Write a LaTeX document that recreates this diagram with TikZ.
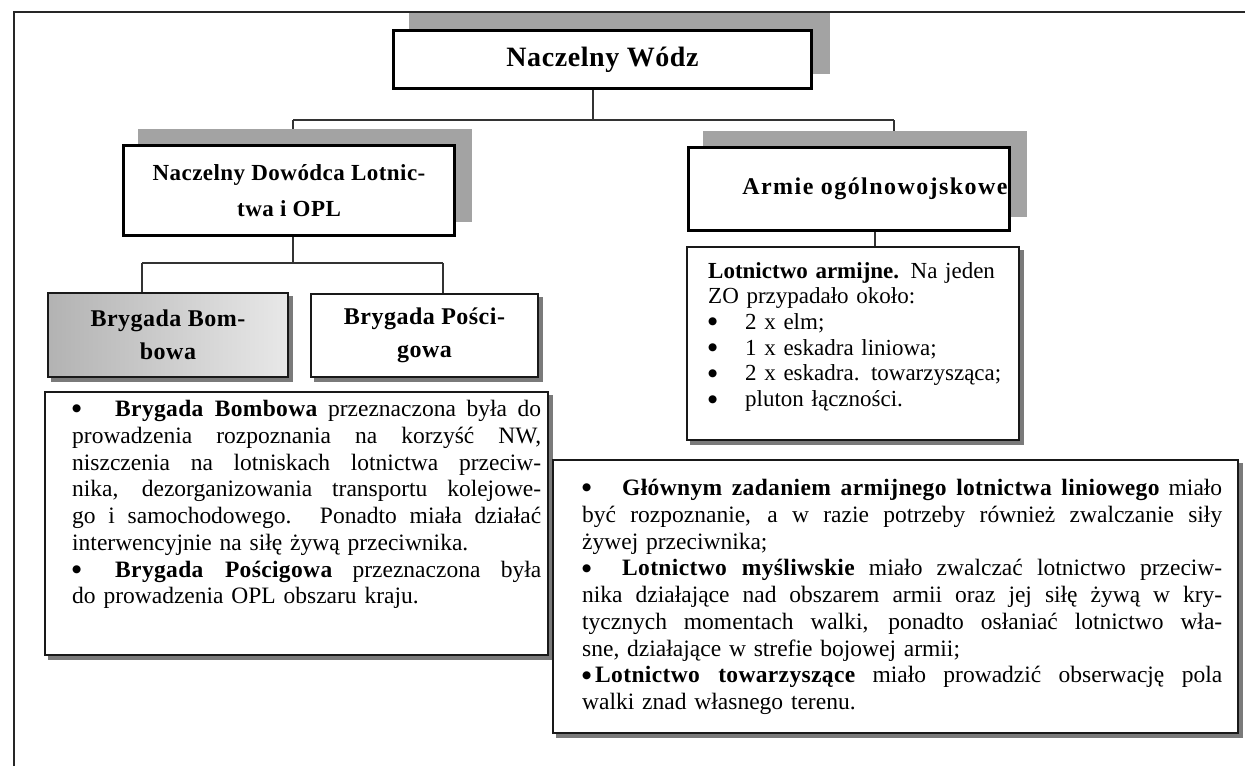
\documentclass[tikz,border=0pt]{standalone}
\usepackage{fontspec}
\setmainfont{Liberation Serif}
\newfontfamily\lsp[LetterSpace=2]{Liberation Serif}
\newfontfamily\lspwide[LetterSpace=6]{Liberation Serif}
\newfontfamily\bodyfb[LetterSpace=1.5]{Liberation Serif}
\newfontfamily\dotfont{DejaVu Sans}
\usetikzlibrary{calc,backgrounds}
\newlength\jw
\newcommand\bbfont{\lsp}
\newcommand\bb[1]{{\bbfont\bfseries #1}}
% a fully justified line: interword glue is allowed to stretch to the given width
\newcommand\jl[1]{\makebox[\jw][s]{\spaceskip=0pt\xspaceskip=0pt\relax #1}}
% list bullet followed by a fixed gap
\newcommand\bul[1]{\makebox[#1][l]{\smash{\raisebox{4.6pt}{\fontsize{10.5}{10.5}\selectfont\dotfont ●}}}}
\begin{document}
\begin{tikzpicture}[x=1pt,y=-1pt,
  headbox/.style={draw=black, line width=3pt, fill=white, align=center,
    inner sep=0pt, font=\fontsize{23}{36}\selectfont\lsp\bfseries},
  unitbox/.style={draw=black!90, line width=1.3pt, fill=white, align=center,
    inner sep=0pt, font=\fontsize{24}{33}\selectfont\lsp\bfseries},
  textbox/.style={draw=black!90, line width=1.3pt, fill=white, inner sep=0pt},
  bodytext/.style={anchor=north west, inner sep=0pt, align=left,
    font=\fontsize{23.5}{26.75}\selectfont\rmfamily,
    execute at begin node={\setlength\jw{#1}\renewcommand\bbfont{\bodyfb}}},
  link/.style={line width=1.1pt, draw=black!80},
  topshadow/.style={fill=black!36},
  dropshadow/.style={fill=black!52}]
\useasboundingbox (0,0) rectangle (1245,766);

% outer frame (top and left edges only)
\coordinate (fa) at (14,766);
\coordinate (fb) at (14,12);
\coordinate (fc) at (1245,12);
\draw[line width=1.6pt, black!85] (fa) -- (fb) -- (fc);

% headquarters level
\node[headbox, minimum width=418pt, minimum height=58pt,
  font=\fontsize{28}{36}\selectfont\lsp\bfseries] (wodz) at (602.5,59.5) {Naczelny Wódz};
\node[headbox, minimum width=331pt, minimum height=90pt] (dow) at (289,190.5)
  {Naczelny Dowódca Lotnic-\\twa i OPL};
\node[headbox, minimum width=321pt, minimum height=83pt,
  font=\fontsize{24}{36}\selectfont\lspwide\bfseries] (armie) at (849,189)
  {\hspace*{52pt}Armie ogólnowojskowe};

% brigades
\node[unitbox, minimum width=240pt, minimum height=84pt,
  left color=black!30, right color=black!9] (bomb) at (168,335) {Brygada Bom-\\bowa};
\node[unitbox, minimum width=227pt, minimum height=83pt] (posc) at (424.5,335.5)
  {Brygada Pości-\\gowa};

% description boxes
\node[textbox, minimum width=503pt, minimum height=263pt] (bdesc) at (296.5,523.5) {};
\node[textbox, minimum width=332pt, minimum height=193pt] (lot) at (853,343.5) {};
\node[textbox, minimum width=685pt, minimum height=273pt] (adesc) at (895.5,596.5) {};

\node[bodytext=469pt, text width=469pt] (btext) at (72,400) {%
\jl{\bul{43pt}\bb{Brygada Bombowa} przeznaczona była do}\\
\jl{prowadzenia rozpoznania na korzyść NW,}\\
\jl{niszczenia na lotniskach lotnictwa przeciw-}\\
\jl{nika, dezorganizowania transportu kolejowe-}\\
\jl{go i samochodowego. Ponadto miała działać}\\
interwencyjnie na siłę żywą przeciwnika.\\
\jl{\bul{43pt}\bb{Brygada Pościgowa} przeznaczona była}\\
do prowadzenia OPL obszaru kraju.};

\node[bodytext=300pt, text width=300pt, font=\fontsize{23}{25.7}\selectfont\rmfamily,
  execute at begin node={\renewcommand\bbfont{\rmfamily}}] (ltext) at (708,262) {%
\bb{Lotnictwo armijne.} Na jeden\\
ZO przypadało około:\\
\bul{37pt}2 x elm;\\
\bul{37pt}1 x eskadra liniowa;\\
\bul{37pt}2 x eskadra. towarzysząca;\\
\bul{37pt}pluton łączności.};

\node[bodytext=640pt, text width=640pt] (atext) at (582,479) {%
\jl{\bul{40pt}\bb{Głównym zadaniem armijnego lotnictwa liniowego} miało}\\
\jl{być rozpoznanie, a w razie potrzeby również zwalczanie siły}\\
żywej przeciwnika;\\
\jl{\bul{40pt}\bb{Lotnictwo myśliwskie} miało zwalczać lotnictwo przeciw-}\\
\jl{nika działające nad obszarem armii oraz jej siłę żywą w kry-}\\
\jl{tycznych momentach walki, ponadto osłaniać lotnictwo wła-}\\
sne, działające w strefie bojowej armii;\\
\jl{\bul{13pt}\bb{Lotnictwo towarzyszące} miało prowadzić obserwację pola}\\
walki znad własnego terenu.};

% connectors and shadows behind the boxes
\coordinate (c1) at (593,120);
\coordinate (bl) at (293,120);
\coordinate (br) at (894,120);
\coordinate (c2) at (293,263);
\coordinate (bbl) at (142,263);
\coordinate (bbr) at (443,263);
\coordinate (c3) at (875,240);
\begin{scope}[on background layer]
  \draw[link] (wodz.south -| c1) -- (c1);
  \draw[link] (bl) -- (br);
  \draw[link] (bl) -- (bl |- dow.north);
  \draw[link] (br) -- (br |- armie.north);
  \draw[link] (dow.south -| c2) -- (c2);
  \draw[link] (bbl) -- (bbr);
  \draw[link] (bbl) -- (bbl |- bomb.north);
  \draw[link] (bbr) -- (bbr |- posc.north);
  \draw[link] (armie.south -| c3) -- (lot.north -| c3);
  % raised shadows of the command boxes
  \fill[topshadow] ($(wodz.south west)+(17,-16)$) rectangle ($(wodz.north east)+(17,-16)$);
  \fill[topshadow] ($(dow.south west)+(16,-15)$) rectangle ($(dow.north east)+(16,-15)$);
  \fill[topshadow] ($(armie.south west)+(16,-15)$) rectangle ($(armie.north east)+(16,-15)$);
  % drop shadows of the lower boxes
  \foreach \b in {bomb,posc,bdesc,lot,adesc}
    \fill[dropshadow] ($(\b.south west)+(4,4)$) rectangle ($(\b.north east)+(4,4)$);
\end{scope}
\end{tikzpicture}
\end{document}
